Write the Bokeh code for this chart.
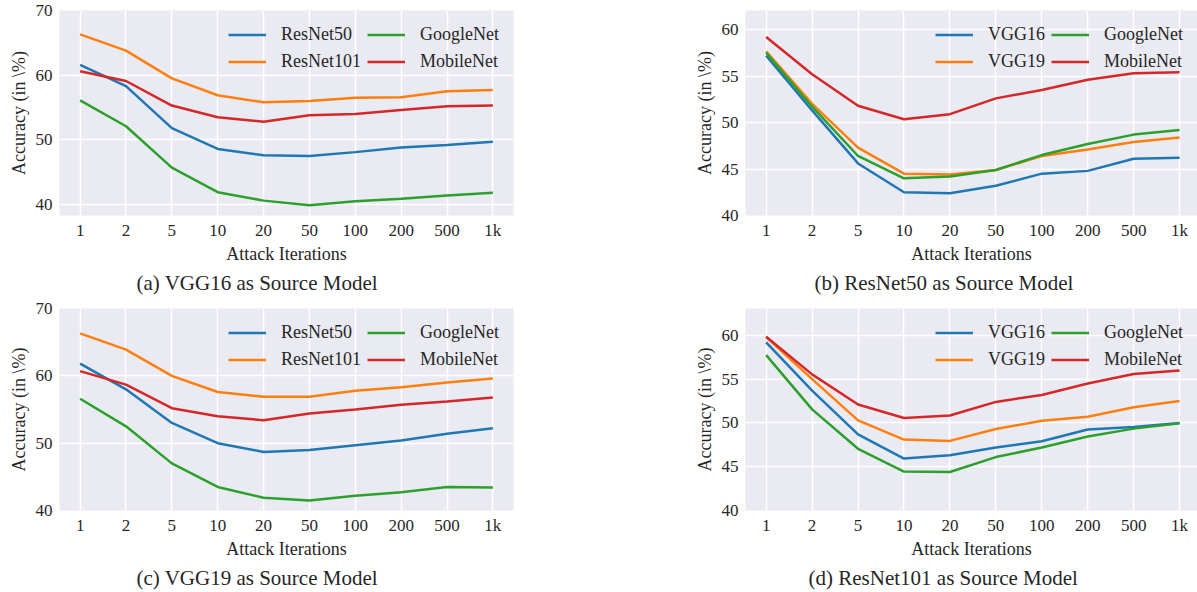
from bokeh.plotting import figure
from bokeh.models import Legend, LegendItem, FixedTicker, Range1d, Title
from bokeh.layouts import column, row
from bokeh.embed import file_html
from bokeh.resources import INLINE

iterations = ["1", "2", "5", "10", "20", "50", "100", "200", "500", "1k"]

# (a) VGG16 as source model
a_names = ["ResNet50", "ResNet101", "GoogleNet", "MobileNet"]
a_resnet50 = [61.6, 58.3, 51.8, 48.6, 47.6, 47.5, 48.1, 48.8, 49.2, 49.7]
a_resnet101 = [66.3, 63.8, 59.5, 56.9, 55.8, 56.0, 56.5, 56.6, 57.5, 57.7]
a_googlenet = [56.1, 52.1, 45.7, 41.9, 40.6, 39.9, 40.5, 40.9, 41.4, 41.8]
a_mobilenet = [60.6, 59.1, 55.3, 53.5, 52.8, 53.8, 54.0, 54.6, 55.2, 55.3]

# (b) ResNet50 as source model
b_names = ["VGG16", "VGG19", "GoogleNet", "MobileNet"]
b_vgg16 = [57.2, 51.3, 45.6, 42.5, 42.4, 43.2, 44.5, 44.8, 46.1, 46.2]
b_vgg19 = [57.65, 52.0, 47.3, 44.5, 44.4, 44.9, 46.4, 47.1, 47.9, 48.4]
b_googlenet = [57.5, 51.7, 46.4, 44.0, 44.2, 44.9, 46.5, 47.7, 48.7, 49.2]
b_mobilenet = [59.2, 55.2, 51.8, 50.35, 50.9, 52.6, 53.5, 54.6, 55.3, 55.4]

# (c) VGG19 as source model
c_names = ["ResNet50", "ResNet101", "GoogleNet", "MobileNet"]
c_resnet50 = [61.8, 58.0, 53.0, 50.0, 48.7, 49.0, 49.7, 50.4, 51.4, 52.2]
c_resnet101 = [66.3, 63.9, 60.0, 57.6, 56.9, 56.9, 57.8, 58.3, 59.0, 59.6]
c_googlenet = [56.6, 52.5, 47.0, 43.5, 41.9, 41.5, 42.2, 42.7, 43.5, 43.4]
c_mobilenet = [60.7, 58.7, 55.2, 54.0, 53.4, 54.4, 55.0, 55.7, 56.2, 56.8]

# (d) ResNet101 as source model
d_names = ["VGG16", "VGG19", "GoogleNet", "MobileNet"]
d_vgg16 = [59.2, 53.7, 48.7, 45.93, 46.3, 47.2, 47.9, 49.25, 49.55, 50.0]
d_vgg19 = [59.8, 55.0, 50.3, 48.1, 47.95, 49.3, 50.25, 50.7, 51.8, 52.5]
d_googlenet = [57.75, 51.55, 47.05, 44.45, 44.4, 46.1, 47.2, 48.45, 49.35, 49.95]
d_mobilenet = [59.85, 55.55, 52.1, 50.56, 50.85, 52.4, 53.2, 54.5, 55.6, 56.0]

captions = ["(a) VGG16 as Source Model", "(b) ResNet50 as Source Model",
            "(c) VGG19 as Source Model", "(d) ResNet101 as Source Model"]

COLORS = ["#1f77b4", "#ff7f0e", "#2ca02c", "#d62728"]
FONT = "Liberation Serif"
TEXT = "#262626"


def make_panel(names, series, caption, ylim, yticks, width, height,
               bl, br, bt, bb, x_end, cap_offset):
    p = figure(width=width, height=height, output_backend="svg",
               toolbar_location=None,
               x_range=Range1d(-0.45, x_end), y_range=Range1d(*ylim),
               min_border_left=bl, min_border_right=br,
               min_border_top=bt, min_border_bottom=bb)
    p.background_fill_color = "#EAEAF2"
    p.border_fill_color = "white"
    p.outline_line_color = None
    p.grid.grid_line_color = "white"
    p.grid.grid_line_width = 1.5
    xs = list(range(len(iterations)))
    items = []
    for name, vals, col in zip(names, series, COLORS):
        r = p.line(xs, vals, line_color=col, line_width=2.5)
        items.append(LegendItem(label=name, renderers=[r]))
    leg = Legend(items=items, ncols=2, orientation="vertical",
                 location="top_right", margin=3, padding=11, spacing=6,
                 glyph_width=38, glyph_height=19, label_height=19,
                 label_standoff=15,
                 label_text_font=FONT, label_text_font_size="18px",
                 label_text_color=TEXT,
                 border_line_alpha=0, background_fill_alpha=0)
    p.add_layout(leg)

    p.xaxis.ticker = FixedTicker(ticks=xs)
    p.xaxis.major_label_overrides = {i: t for i, t in enumerate(iterations)}
    p.yaxis.ticker = FixedTicker(ticks=yticks)
    for ax in (p.xaxis[0], p.yaxis[0]):
        ax.axis_line_color = None
        ax.major_tick_line_color = None
        ax.minor_tick_line_color = None
        ax.major_tick_out = 0
        ax.major_tick_in = 0
        ax.major_label_text_font = FONT
        ax.major_label_text_font_size = "17px"
        ax.major_label_text_color = TEXT
        ax.axis_label_text_font = FONT
        ax.axis_label_text_font_size = "18px"
        ax.axis_label_text_font_style = "normal"
        ax.axis_label_text_color = TEXT
    p.xaxis.major_label_standoff = 5
    p.xaxis.axis_label_standoff = 1
    p.xaxis.axis_label = "Attack Iterations"
    p.yaxis.axis_label = "Accuracy (in \\%)"
    p.yaxis.major_label_standoff = 7
    p.yaxis.axis_label_standoff = 4

    t = Title(text=caption, align="left", text_font=FONT,
              text_font_size="21px", text_font_style="normal",
              text_color=TEXT, offset=cap_offset, standoff=5)
    p.add_layout(t, "below")
    return p


pa = make_panel(a_names, [a_resnet50, a_resnet101, a_googlenet, a_mobilenet],
                captions[0], (38.3, 70), [40, 50, 60, 70],
                598, 297, 59, 85, 10, 82, 9.45, 77)
pb = make_panel(b_names, [b_vgg16, b_vgg19, b_googlenet, b_mobilenet],
                captions[1], (40, 62.05), [40, 45, 50, 55, 60],
                599, 297, 147, 0, 9, 82, 9.39, 69)
pc = make_panel(c_names, [c_resnet50, c_resnet101, c_googlenet, c_mobilenet],
                captions[2], (40, 70), [40, 50, 60, 70],
                598, 295, 59, 85, 11, 79, 9.45, 77)
pd = make_panel(d_names, [d_vgg16, d_vgg19, d_googlenet, d_mobilenet],
                captions[3], (40, 63.07), [40, 45, 50, 55, 60],
                599, 295, 147, 0, 9, 80, 9.39, 63)

lay = column(row(pa, pb), row(pc, pd))
open("out.html", "w").write(file_html(lay, INLINE))
